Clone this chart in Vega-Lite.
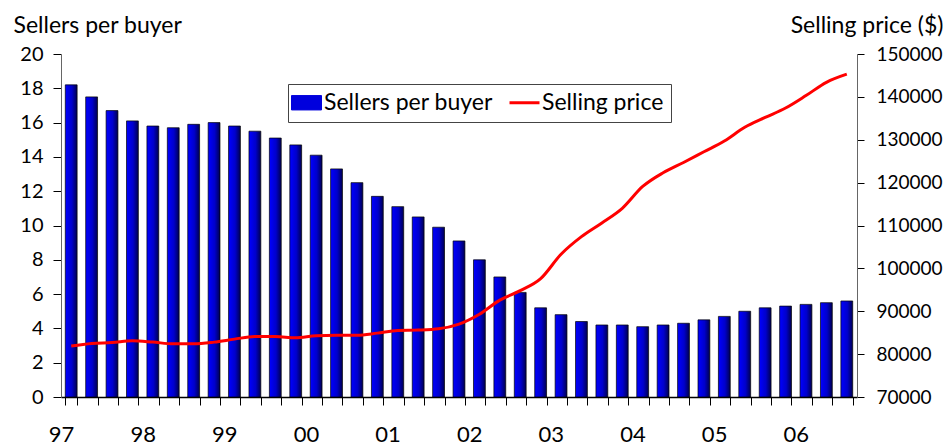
{
  "$schema": "https://vega.github.io/schema/vega-lite/v6.json",
  "autosize": {"type": "none"},
  "width": 796,
  "height": 343,
  "padding": {"left": 61, "top": 54, "right": 89, "bottom": 50},
  "background": "white",
  "config": {
    "font": "Lato",
    "view": {"stroke": null},
    "axis": {"labelFont": "Lato", "titleFont": "Lato", "labelColor": "black", "titleColor": "black", "grid": false, "domainColor": "#666", "tickColor": "black"}
  },
  "data": {
    "values": [
      {"q": "1997Q1", "sellers": 18.2, "price": 81900},
      {"q": "1997Q2", "sellers": 17.5, "price": 82500},
      {"q": "1997Q3", "sellers": 16.7, "price": 82700},
      {"q": "1997Q4", "sellers": 16.1, "price": 83100},
      {"q": "1998Q1", "sellers": 15.8, "price": 82800},
      {"q": "1998Q2", "sellers": 15.7, "price": 82400},
      {"q": "1998Q3", "sellers": 15.9, "price": 82400},
      {"q": "1998Q4", "sellers": 16.0, "price": 82800},
      {"q": "1999Q1", "sellers": 15.8, "price": 83500},
      {"q": "1999Q2", "sellers": 15.5, "price": 84100},
      {"q": "1999Q3", "sellers": 15.1, "price": 84100},
      {"q": "1999Q4", "sellers": 14.7, "price": 83800},
      {"q": "2000Q1", "sellers": 14.1, "price": 84300},
      {"q": "2000Q2", "sellers": 13.3, "price": 84400},
      {"q": "2000Q3", "sellers": 12.5, "price": 84400},
      {"q": "2000Q4", "sellers": 11.7, "price": 84900},
      {"q": "2001Q1", "sellers": 11.1, "price": 85500},
      {"q": "2001Q2", "sellers": 10.5, "price": 85600},
      {"q": "2001Q3", "sellers": 9.9, "price": 85900},
      {"q": "2001Q4", "sellers": 9.1, "price": 87000},
      {"q": "2002Q1", "sellers": 8.0, "price": 89300},
      {"q": "2002Q2", "sellers": 7.0, "price": 92600},
      {"q": "2002Q3", "sellers": 6.1, "price": 94800},
      {"q": "2002Q4", "sellers": 5.2, "price": 97600},
      {"q": "2003Q1", "sellers": 4.8, "price": 103300},
      {"q": "2003Q2", "sellers": 4.4, "price": 107400},
      {"q": "2003Q3", "sellers": 4.2, "price": 110600},
      {"q": "2003Q4", "sellers": 4.2, "price": 114000},
      {"q": "2004Q1", "sellers": 4.1, "price": 119100},
      {"q": "2004Q2", "sellers": 4.2, "price": 122300},
      {"q": "2004Q3", "sellers": 4.3, "price": 124700},
      {"q": "2004Q4", "sellers": 4.5, "price": 127200},
      {"q": "2005Q1", "sellers": 4.7, "price": 129700},
      {"q": "2005Q2", "sellers": 5.0, "price": 132900},
      {"q": "2005Q3", "sellers": 5.2, "price": 135200},
      {"q": "2005Q4", "sellers": 5.3, "price": 137400},
      {"q": "2006Q1", "sellers": 5.4, "price": 140300},
      {"q": "2006Q2", "sellers": 5.5, "price": 143400},
      {"q": "2006Q3", "sellers": 5.6, "price": 145300}
    ]
  },
  "encoding": {
    "x": {
      "field": "q",
      "type": "ordinal",
      "scale": {"paddingInner": 0.42, "paddingOuter": 0.21},
      "axis": {
        "title": null,
        "labelAngle": 0,
        "labelFontSize": 22,
        "labelPadding": 19,
        "labelOffset": -10.2,
        "labelOverlap": false,
        "labelExpr": "substring(datum.value,4,6)=='Q1' ? substring(datum.value,2,4) : ''",
        "tickBand": "extent",
        "tickSize": 8,
        "domainColor": "black",
        "domainWidth": 1.5
      }
    }
  },
  "layer": [
    {
      "mark": {
        "type": "bar",
        "stroke": "black",
        "strokeWidth": 0.7,
        "color": {
          "gradient": "linear",
          "x1": 0, "y1": 0, "x2": 1, "y2": 0,
          "stops": [
            {"offset": 0, "color": "#0000ff"},
            {"offset": 0.55, "color": "#0000cc"},
            {"offset": 1, "color": "#000050"}
          ]
        }
      },
      "encoding": {
        "y": {
          "field": "sellers",
          "type": "quantitative",
          "scale": {"domain": [0, 20], "nice": false},
          "axis": {
            "title": "Sellers per buyer",
            "titleAngle": 0,
            "titleFontSize": 23,
            "titleFontWeight": "normal",
            "titleAlign": "left",
            "titleBaseline": "middle",
            "titleX": -48,
            "titleY": -29,
            "values": [0, 2, 4, 6, 8, 10, 12, 14, 16, 18, 20],
            "labelFontSize": 20,
            "labelPadding": 10,
            "tickSize": 8,
            "domainColor": "#666"
          }
        }
      }
    },
    {
      "mark": {"type": "line", "strokeWidth": 3, "interpolate": "monotone"},
      "encoding": {
        "y": {
          "field": "price",
          "type": "quantitative",
          "scale": {"domain": [70000, 150000], "nice": false, "zero": false},
          "axis": {
            "orient": "right",
            "title": "Selling price ($)",
            "titleAngle": 0,
            "titleFontSize": 23,
            "titleFontWeight": "normal",
            "titleAlign": "right",
            "titleBaseline": "middle",
            "titleX": 86,
            "titleY": -29,
            "values": [70000, 80000, 90000, 100000, 110000, 120000, 130000, 140000, 150000],
            "format": "d",
            "labelFontSize": 19,
            "labelPadding": 12,
            "tickSize": 7,
            "domainColor": "#666"
          }
        },
        "color": {
          "datum": "Selling price",
          "type": "nominal",
          "scale": {"domain": ["Sellers per buyer", "Selling price"], "range": ["#0000dd", "#ff0000"]},
          "legend": {
            "title": null,
            "orient": "none",
            "legendX": 227,
            "legendY": 30,
            "direction": "horizontal",
            "strokeColor": "#444",
            "padding": 7,
            "labelFontSize": 23,
            "labelFont": "Lato",
            "labelColor": "black",
            "labelOffset": 6,
            "symbolSize": 900,
            "columnPadding": 10,
            "labelLimit": 300,
            "encode": {
              "symbols": {
                "update": {
                  "shape": {"signal": "datum.value === 'Selling price' ? 'M-1,0H1' : 'M-1,-0.48H1V0.48H-1Z'"},
                  "fill": {"signal": "datum.value === 'Selling price' ? 'transparent' : '#0000dd'"},
                  "stroke": {"signal": "datum.value === 'Selling price' ? '#ff0000' : '#000033'"},
                  "strokeWidth": {"signal": "datum.value === 'Selling price' ? 3 : 1"}
                }
              }
            }
          }
        }
      }
    }
  ],
  "resolve": {"scale": {"y": "independent"}}
}
